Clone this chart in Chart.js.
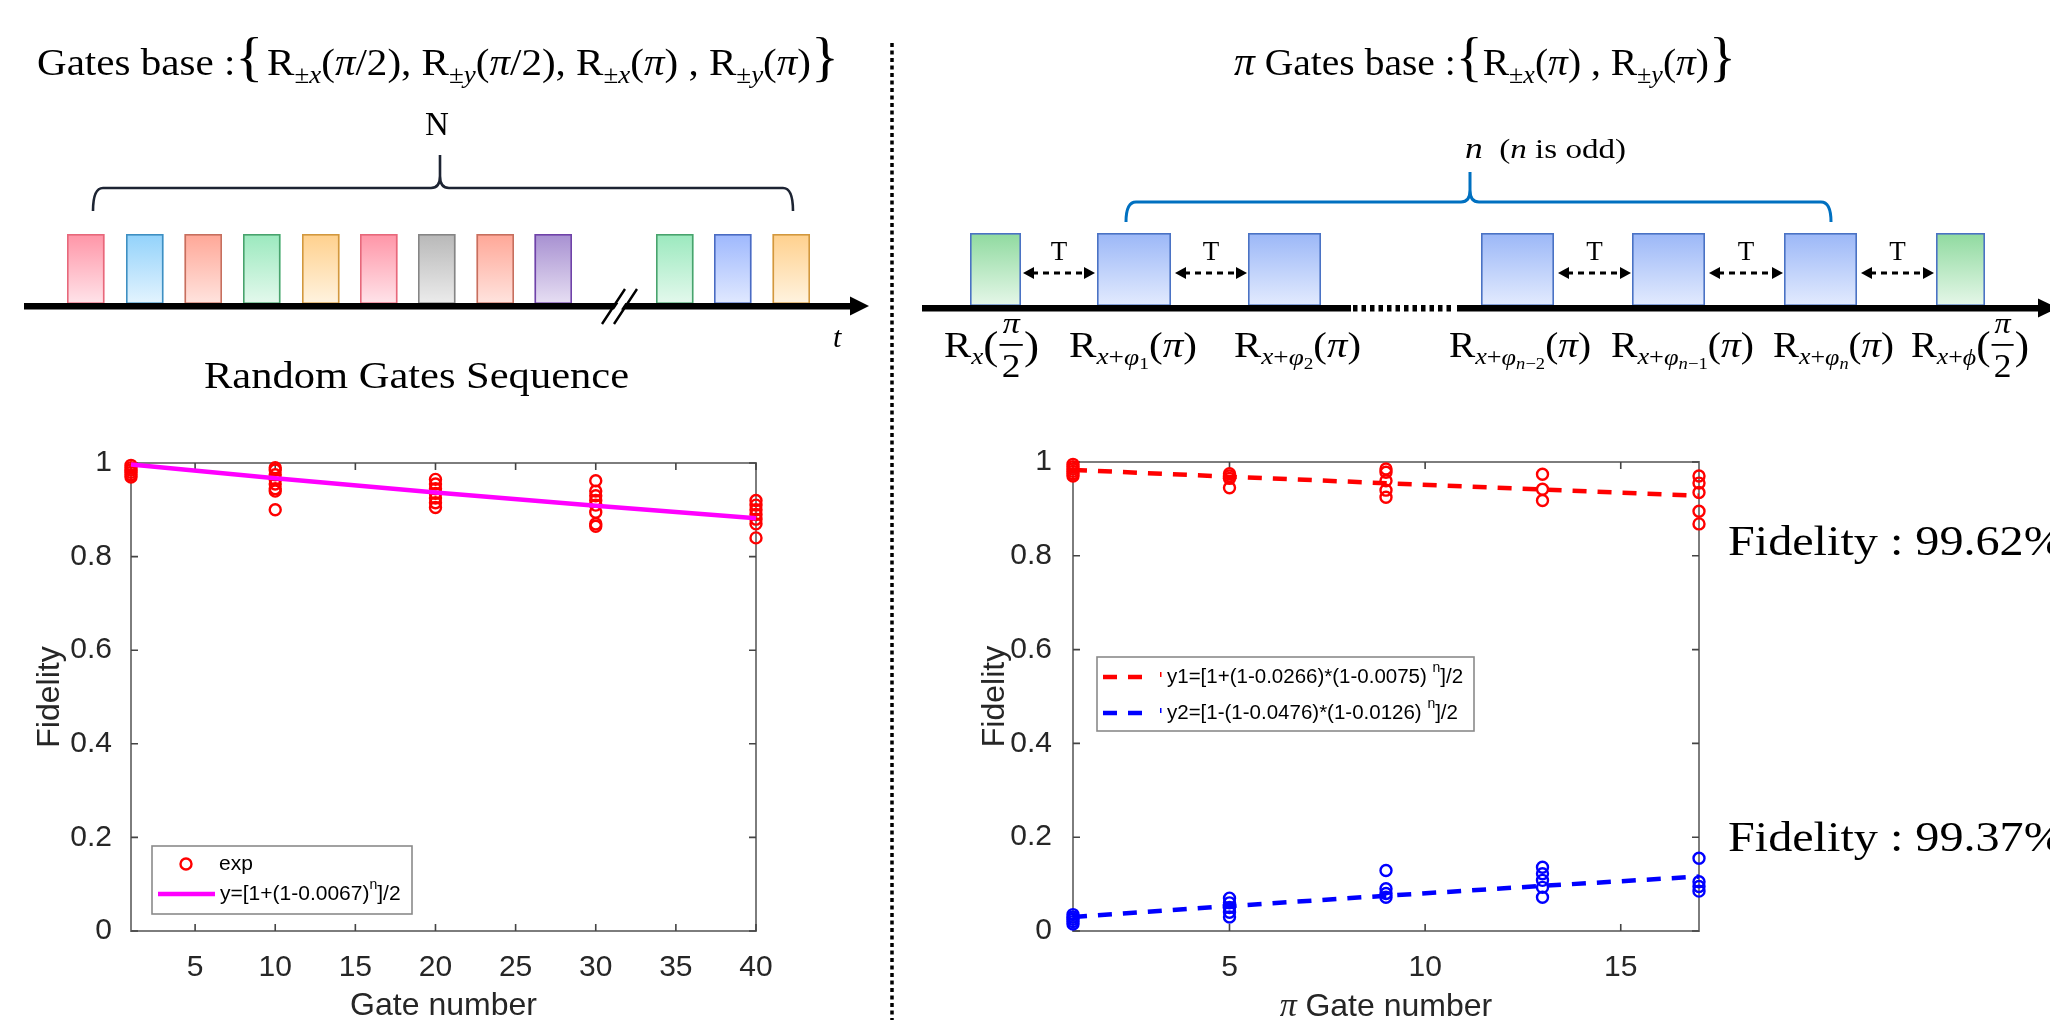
<!DOCTYPE html>
<html>
<head>
<meta charset="utf-8">
<script src="https://cdn.jsdelivr.net/npm/chart.js@4.4.1/dist/chart.umd.min.js"></script>
<style>
  html, body { margin: 0; padding: 0; background: #fff; width: 2050px; height: 1020px; overflow: hidden; }
  #diagram { position: absolute; left: 0; top: 0; }
  .box { position: absolute; }
</style>
</head>
<body>
<canvas id="diagram" width="2050" height="1020"></canvas>
<div class="box" style="left:0px; top:430px;"><canvas id="leftChart" width="880" height="620"></canvas></div>
<div class="box" style="left:940px; top:430px;"><canvas id="rightChart" width="880" height="620"></canvas></div>
<script>
// ---- data ----
var yTicks = [0, 0.2, 0.4, 0.6, 0.8, 1];

// random gates
var leftX = [1, 10, 20, 30, 40];
var leftExp = [
  [0.995, 0.99, 0.985, 0.98, 0.975, 0.97],
  [0.99, 0.985, 0.975, 0.965, 0.955, 0.945, 0.94, 0.90],
  [0.965, 0.955, 0.945, 0.935, 0.925, 0.915, 0.905],
  [0.962, 0.94, 0.93, 0.92, 0.91, 0.895, 0.87, 0.865],
  [0.92, 0.91, 0.90, 0.89, 0.88, 0.87, 0.84]
];
var leftFit = [0.9967, 0.9675, 0.9371, 0.9087, 0.8821];
var leftXTicks = [5, 10, 15, 20, 25, 30, 35, 40];
var leftLegend = [['exp'], ['y=[1+(1-0.0067)', 'n', ']/2']];

// pi gates
var rightX = [1, 5, 9, 13, 17];
var rightRed = [
  [0.995, 0.99, 0.985, 0.98, 0.975, 0.97],
  [0.975, 0.97, 0.965, 0.945],
  [0.985, 0.978, 0.96, 0.94, 0.925],
  [0.974, 0.942, 0.918],
  [0.97, 0.955, 0.935, 0.895, 0.868]
];
var rightRedFit = [0.9831, 0.9687, 0.9548, 0.9413, 0.9282];
var rightBlue = [
  [0.035, 0.03, 0.025, 0.02, 0.015],
  [0.07, 0.06, 0.05, 0.04, 0.03],
  [0.129, 0.09, 0.08, 0.072],
  [0.136, 0.122, 0.108, 0.093, 0.072],
  [0.155, 0.105, 0.095, 0.085]
];
var rightBlueFit = [0.0298, 0.0531, 0.0752, 0.0962, 0.1161];
var rightXTicks = [5, 10, 15];
var rightLegend = [['y1=[1+(1-0.0266)*(1-0.0075) ', 'n', ']/2'], ['y2=[1-(1-0.0476)*(1-0.0126) ', 'n', ']/2']];
var fidelityText = ['Fidelity : 99.62%', 'Fidelity : 99.37%'];

function toPoints(xs, vals) {
  var pts = [];
  xs.forEach(function (x, i) {
    [].concat(vals[i]).forEach(function (y) { pts.push({x: x, y: y}); });
  });
  return pts;
}

Chart.defaults.font.family = '"Liberation Sans", Arial, sans-serif';
Chart.defaults.color = '#262626';

var SANS = '"Liberation Sans", Arial, sans-serif';
var SERIF = '"Liberation Serif", "DejaVu Serif", serif';

// matlab style box with inward ticks on all four sides
var matlabBox = {
  id: 'matlabBox',
  beforeDatasetsDraw: function (chart) {
    var a = chart.chartArea, ctx = chart.ctx;
    ctx.save();
    ctx.strokeStyle = '#7d7d7d';
    ctx.lineWidth = 2;
    ctx.strokeRect(a.left, a.top, a.right - a.left, a.bottom - a.top);
    ctx.strokeStyle = '#444';
    ctx.lineWidth = 1.6;
    ctx.beginPath();
    chart.scales.x.ticks.forEach(function (t) {
      var px = chart.scales.x.getPixelForValue(t.value);
      ctx.moveTo(px, a.bottom); ctx.lineTo(px, a.bottom - 7);
      ctx.moveTo(px, a.top); ctx.lineTo(px, a.top + 7);
    });
    chart.scales.y.ticks.forEach(function (t) {
      var py = chart.scales.y.getPixelForValue(t.value);
      ctx.moveTo(a.left, py); ctx.lineTo(a.left + 7, py);
      ctx.moveTo(a.right, py); ctx.lineTo(a.right - 7, py);
    });
    ctx.stroke();
    ctx.restore();
  }
};

// legend drawn inside the axes like matlab
var boxLegend = {
  id: 'boxLegend',
  afterDraw: function (chart, args, o) {
    var ctx = chart.ctx, b = o.box;
    ctx.save();
    ctx.fillStyle = '#fff';
    ctx.fillRect(b[0], b[1], b[2] - b[0], b[3] - b[1]);
    ctx.strokeStyle = '#8a8a8a';
    ctx.lineWidth = 1.6;
    ctx.strokeRect(b[0], b[1], b[2] - b[0], b[3] - b[1]);
    o.items.forEach(function (it) {
      var ds = chart.data.datasets[it.ds];
      if (it.marker) {
        ctx.beginPath();
        ctx.arc(it.sx, it.y, ds.pointRadius, 0, Math.PI * 2);
        ctx.strokeStyle = ds.pointBorderColor;
        ctx.lineWidth = ds.pointBorderWidth;
        ctx.stroke();
      } else {
        ctx.beginPath();
        ctx.setLineDash(ds.borderDash || []);
        ctx.moveTo(it.sx, it.y);
        ctx.lineTo(it.ex, it.y);
        ctx.strokeStyle = ds.borderColor;
        ctx.lineWidth = ds.borderWidth;
        ctx.stroke();
        ctx.setLineDash([]);
        if (it.tick) {
          ctx.fillStyle = ds.borderColor;
          ctx.fillRect(it.tick, it.y - 5, 1.5, 5);
        }
      }
      var txt = it.text, x = it.tx;
      ctx.fillStyle = '#000';
      ctx.textBaseline = 'middle';
      ctx.textAlign = 'left';
      ctx.font = o.size + 'px ' + SANS;
      ctx.fillText(txt[0], x, it.y);
      x += ctx.measureText(txt[0]).width;
      if (txt.length > 1) {
        ctx.font = Math.round(o.size * 0.68) + 'px ' + SANS;
        ctx.fillText(txt[1], x, it.y - 9);
        x += ctx.measureText(txt[1]).width;
        ctx.font = o.size + 'px ' + SANS;
        ctx.fillText(txt[2], x, it.y);
      }
    });
    ctx.restore();
  }
};

// x title with an italic serif pi in front
var piTitle = {
  id: 'piTitle',
  afterDraw: function (chart, args, o) {
    var ctx = chart.ctx, a = chart.chartArea;
    ctx.save();
    ctx.fillStyle = '#262626';
    ctx.textBaseline = 'alphabetic';
    ctx.font = 'italic 34px ' + SERIF;
    var w1 = ctx.measureText('\u03c0 ').width;
    ctx.font = '32px ' + SANS;
    var w2 = ctx.measureText(o.text).width;
    var x = (a.left + a.right) / 2 - (w1 + w2) / 2;
    ctx.font = 'italic 34px ' + SERIF;
    ctx.fillText('\u03c0', x, o.y);
    ctx.font = '32px ' + SANS;
    ctx.fillText(o.text, x + w1, o.y);
    ctx.restore();
  }
};

function axes(xMin, xMax, xTicks, yWidth, yPad, yTitlePad, xTitle) {
  return {
    x: {
      type: 'linear', min: xMin, max: xMax,
      grid: {display: false}, border: {display: false},
      afterBuildTicks: function (s) { s.ticks = xTicks.map(function (v) { return {value: v}; }); },
      afterFit: function (s) { s.height = 119; },
      ticks: {font: {size: 30}, padding: 11, maxRotation: 0, color: '#262626'},
      title: xTitle ? {display: true, text: xTitle, font: {size: 32}, color: '#262626', padding: {top: 0, bottom: 25}} : {display: false}
    },
    y: {
      type: 'linear', min: 0, max: 1,
      grid: {display: false}, border: {display: false},
      afterBuildTicks: function (s) { s.ticks = yTicks.map(function (v) { return {value: v}; }); },
      afterFit: function (s) { s.width = yWidth; },
      ticks: {font: {size: 30}, padding: yPad, color: '#262626', callback: function (v) { return String(v); }},
      title: {display: true, text: 'Fidelity', font: {size: 32}, color: '#262626', padding: {top: yTitlePad, bottom: 0}}
    }
  };
}

function circles(pts, color) {
  return {type: 'scatter', data: pts, showLine: false, pointStyle: 'circle', pointRadius: 5.5,
    pointBorderWidth: 2.4, pointBorderColor: color, pointBackgroundColor: 'rgba(0,0,0,0)', clip: false, order: 2};
}
function fitLine(pts, color, dash) {
  return {type: 'scatter', data: pts, showLine: true, pointRadius: 0, borderColor: color,
    borderWidth: 4.5, borderDash: dash || [], fill: false, tension: 0, clip: false, order: 1};
}

new Chart(document.getElementById('leftChart'), {
  type: 'scatter',
  data: {
    datasets: [
      circles(toPoints(leftX, leftExp), '#ff0000'),
      fitLine(toPoints(leftX, leftFit), '#ff00ff')
    ]
  },
  options: {
    responsive: false, animation: false, events: [],
    layout: {padding: {left: 0, top: 33, right: 124, bottom: 0}},
    plugins: {
      legend: {display: false}, tooltip: {enabled: false},
      boxLegend: {
        size: 21,
        box: [152, 416, 412, 484],
        items: [
          {ds: 0, marker: true, sx: 186, y: 434, tx: 219, text: leftLegend[0]},
          {ds: 1, sx: 158, ex: 215, y: 464, tx: 220, text: leftLegend[1]}
        ]
      }
    },
    scales: axes(1, 40, leftXTicks, 131, 11, 31, 'Gate number')
  },
  plugins: [matlabBox, boxLegend]
});

new Chart(document.getElementById('rightChart'), {
  type: 'scatter',
  data: {
    datasets: [
      circles(toPoints(rightX, rightRed), '#ff0000'),
      circles(toPoints(rightX, rightBlue), '#0000ff'),
      fitLine(toPoints(rightX, rightRedFit), '#ff0000', [14, 11]),
      fitLine(toPoints(rightX, rightBlueFit), '#0000ff', [14, 11])
    ]
  },
  options: {
    responsive: false, animation: false, events: [],
    layout: {padding: {left: 0, top: 32, right: 121, bottom: 0}},
    plugins: {
      legend: {display: false}, tooltip: {enabled: false},
      piTitle: {text: 'Gate number', y: 586},
      boxLegend: {
        size: 20.5,
        box: [157, 227, 534, 301],
        items: [
          {ds: 2, sx: 163, ex: 205, tick: 220, y: 247, tx: 227, text: rightLegend[0]},
          {ds: 3, sx: 163, ex: 205, tick: 220, y: 283, tx: 227, text: rightLegend[1]}
        ]
      }
    },
    scales: axes(1, 17, rightXTicks, 133, 13, 36, null)
  },
  plugins: [matlabBox, boxLegend, piTitle]
});

// ---- schematic drawings above the plots ----
var dg = document.getElementById('diagram').getContext('2d');

function sfont(s, it) { return (it ? 'italic ' : '') + s + 'px ' + SERIF; }
function T(t, s, o) { var p = {t: t, s: s}; for (var k in o) p[k] = o[k]; return p; }

function partWidth(p) {
  if (p.frac) {
    dg.font = sfont(p.s, true);
    var a = dg.measureText(p.frac[0]).width;
    dg.font = sfont(p.s2, false);
    var b = dg.measureText(p.frac[1]).width;
    return Math.max(a, b) + 6;
  }
  dg.font = sfont(p.s, p.it);
  return dg.measureText(p.t).width;
}

function drawRun(parts, x0, x1, base, sxFix) {
  var ws = parts.map(partWidth);
  var total = ws.reduce(function (a, b) { return a + b; }, 0);
  var sx = sxFix || (x1 - x0) / total;
  dg.save();
  dg.translate(x0, base);
  dg.scale(sx, 1);
  dg.fillStyle = '#000';
  dg.textBaseline = 'alphabetic';
  var x = 0;
  parts.forEach(function (p, i) {
    if (p.frac) {
      var w = ws[i];
      dg.textAlign = 'center';
      dg.font = sfont(p.s, true);
      dg.fillText(p.frac[0], x + w / 2, -24);
      dg.fillRect(x + 1, -13, w - 2, 1.8);
      dg.font = sfont(p.s2, false);
      dg.fillText(p.frac[1], x + w / 2, 20);
    } else {
      dg.textAlign = 'left';
      dg.font = sfont(p.s, p.it);
      dg.fillText(p.t, x, p.dy || 0);
    }
    x += ws[i];
  });
  dg.restore();
}

function Rpm(axis) {
  return [T('R', 38), T('\u00b1', 25, {dy: 8}), T(axis, 25, {it: true, dy: 8})];
}

// titles
drawRun([].concat(
  [T('Gates base :', 38), T('{', 54), T(' ', 14)],
  Rpm('x'), [T('(', 38), T('\u03c0', 38, {it: true}), T('/2), ', 38)],
  Rpm('y'), [T('(', 38), T('\u03c0', 38, {it: true}), T('/2), ', 38)],
  Rpm('x'), [T('(', 38), T('\u03c0', 38, {it: true}), T(') , ', 38)],
  Rpm('y'), [T('(', 38), T('\u03c0', 38, {it: true}), T(')', 38), T('}', 54)]
), 37, 839, 75);

drawRun([].concat(
  [T('\u03c0', 40, {it: true}), T(' Gates base :', 38), T('{', 54)],
  Rpm('x'), [T('(', 38), T('\u03c0', 38, {it: true}), T(') , ', 38)],
  Rpm('y'), [T('(', 38), T('\u03c0', 38, {it: true}), T(')', 38), T('}', 54)]
), 1234, 1736, 75);

dg.fillStyle = '#000';
dg.textAlign = 'center';
dg.font = sfont(33, false);
dg.fillText('N', 437, 135);

drawRun([T('n', 30, {it: true}), T('  (', 28), T('n', 28, {it: true}), T(' is odd)', 28)], 1465, 1626, 158);

drawRun([T('Random Gates Sequence', 37)], 204, 629, 388);

dg.font = sfont(30, true);
dg.textAlign = 'left';
dg.fillText('t', 833, 347);

// braces
function brace(x0, x1, xc, yTop, yEnd, yPeak, color, lw) {
  dg.save();
  dg.strokeStyle = color;
  dg.lineWidth = lw;
  dg.lineJoin = 'round';
  dg.beginPath();
  dg.moveTo(x0, yEnd);
  dg.quadraticCurveTo(x0, yTop, x0 + 10, yTop);
  dg.lineTo(xc - 9, yTop);
  dg.quadraticCurveTo(xc, yTop, xc, yTop - 12);
  dg.lineTo(xc, yPeak);
  dg.moveTo(x1, yEnd);
  dg.quadraticCurveTo(x1, yTop, x1 - 10, yTop);
  dg.lineTo(xc + 9, yTop);
  dg.quadraticCurveTo(xc, yTop, xc, yTop - 12);
  dg.stroke();
  dg.restore();
}
brace(93, 793, 440, 188, 211, 155, '#1d2433', 2.6);
brace(1126, 1831, 1470, 202, 222, 172, '#0070c0', 3);

// gate boxes
function gate(x0, x1, y0, y1, c) {
  var g = dg.createLinearGradient(0, y0, 0, y1);
  g.addColorStop(0, c[0]);
  g.addColorStop(1, c[1]);
  dg.fillStyle = g;
  dg.fillRect(x0, y0, x1 - x0, y1 - y0);
  dg.strokeStyle = c[2];
  dg.lineWidth = 1.6;
  dg.strokeRect(x0 + 0.8, y0 + 0.8, x1 - x0 - 1.6, y1 - y0 - 1.6);
}
var PINK = ['#ff95a7', '#ffe4ea', '#e7687b'], SKY = ['#92d2fb', '#e4f4fe', '#3e8fc2'],
    SALMON = ['#ffa797', '#ffe4df', '#c66f5e'], MINT = ['#9be9be', '#e4f9ed', '#48a36d'],
    ORANGE = ['#ffd08d', '#fff3e0', '#d2983e'], GRAY = ['#b8b8b8', '#ececec', '#858585'],
    PURPLE = ['#a790d1', '#e7dff3', '#6f42a8'], BLUE = ['#9eb8fd', '#e1e9ff', '#4a6bc2'];
var leftGates = [[67, PINK], [126, SKY], [184.5, SALMON], [243, MINT], [302, ORANGE], [360, PINK],
  [418, GRAY], [476.5, SALMON], [534.5, PURPLE], [656, MINT], [714, BLUE], [772.5, ORANGE]];
leftGates.forEach(function (g) { gate(g[0], g[0] + 37.5, 234, 304, g[1]); });

var PBLUE = ['#9bb7f7', '#e3ebfe', '#4a72c4'], PGREEN = ['#8fda9f', '#e6f7e9', '#4a72c4'];
var rightGates = [[970, 1021, PGREEN], [1097, 1171, PBLUE], [1248, 1321, PBLUE], [1481, 1554, PBLUE],
  [1632, 1705, PBLUE], [1784, 1857, PBLUE], [1936, 1985, PGREEN]];
rightGates.forEach(function (g) { gate(g[0], g[1], 233, 306, g[2]); });

// time axes
dg.fillStyle = '#000';
dg.fillRect(24, 303, 830, 6.5);
dg.beginPath(); dg.moveTo(869, 306); dg.lineTo(850, 296.5); dg.lineTo(850, 315.5); dg.closePath(); dg.fill();
// axis break
dg.fillStyle = '#fff';
dg.beginPath(); dg.moveTo(605, 323); dg.lineTo(627, 290); dg.lineTo(634, 290); dg.lineTo(612, 323); dg.closePath(); dg.fill();
dg.strokeStyle = '#000'; dg.lineWidth = 2.4;
dg.beginPath();
dg.moveTo(602, 324); dg.lineTo(625, 289);
dg.moveTo(614, 324); dg.lineTo(637, 289);
dg.stroke();

dg.fillStyle = '#000';
dg.fillRect(922, 305, 429, 6.5);
dg.fillRect(1457, 305, 600, 6.5);
for (var xd = 1353; xd < 1455; xd += 8.5) dg.fillRect(xd, 305, 4.5, 6.5);
dg.beginPath(); dg.moveTo(2058, 308); dg.lineTo(2038, 298.5); dg.lineTo(2038, 317.5); dg.closePath(); dg.fill();

// spacing arrows with T
function tArrow(x0, x1) {
  var y = 273;
  dg.save();
  dg.strokeStyle = '#000';
  dg.lineWidth = 3;
  dg.setLineDash([6, 5]);
  dg.beginPath(); dg.moveTo(x0 + 9, y); dg.lineTo(x1 - 9, y); dg.stroke();
  dg.setLineDash([]);
  dg.fillStyle = '#000';
  dg.beginPath(); dg.moveTo(x0, y); dg.lineTo(x0 + 11, y - 6); dg.lineTo(x0 + 11, y + 6); dg.closePath(); dg.fill();
  dg.beginPath(); dg.moveTo(x1, y); dg.lineTo(x1 - 11, y - 6); dg.lineTo(x1 - 11, y + 6); dg.closePath(); dg.fill();
  dg.font = sfont(27, false);
  dg.textAlign = 'center';
  dg.fillText('T', (x0 + x1) / 2, 260);
  dg.restore();
}
[[1023, 1095], [1175, 1247], [1558, 1631], [1709, 1783], [1861, 1934]].forEach(function (a) { tArrow(a[0], a[1]); });

// pulse labels
var S = 36, s2 = 24, s3 = 17;
function Rsub(extra) {
  return [T('R', S), T('x', s2, {it: true, dy: 7})].concat(extra);
}
var paren = function (inner) { return [T('(', S)].concat(inner, [T(')', S)]); };
var piArg = paren([T('\u03c0', S, {it: true})]);
var halfArg = [T('(', 40, {dy: 2}), {frac: ['\u03c0', '2'], s: 30, s2: 33}, T(')', 40, {dy: 2})];
function phi(sub) {
  return [T('+', s2, {dy: 7}), T('\u03c6', s2, {it: true, dy: 8})].concat(sub);
}
var base = 357;
drawRun(Rsub(halfArg), 944, 1039, base);
drawRun(Rsub(phi([T('1', s3, {dy: 12})]).concat(piArg)), 1069, 1197, base);
drawRun(Rsub(phi([T('2', s3, {dy: 12})]).concat(piArg)), 1234, 1361, base);
drawRun(Rsub(phi([T('n', s3, {it: true, dy: 12}), T('\u22122', s3, {dy: 12})]).concat(piArg)), 1449, 1591, base);
drawRun(Rsub(phi([T('n', s3, {it: true, dy: 12}), T('\u22121', s3, {dy: 12})]).concat(piArg)), 1611, 1754, base);
drawRun(Rsub(phi([T('n', s3, {it: true, dy: 12})]).concat(piArg)), 1773, 1894, base);
drawRun(Rsub([T('+', s2, {dy: 7}), T('\u03d5', s2, {it: true, dy: 8})]).concat(halfArg), 1911, 2029, base);

// fidelity notes on the right
drawRun([T(fidelityText[0], 43)], 1728, null, 555, 1.12);
drawRun([T(fidelityText[1], 43)], 1728, null, 851, 1.12);

// dotted divider
dg.save();
dg.strokeStyle = '#000';
dg.lineWidth = 3.5;
dg.setLineDash([4, 3.5]);
dg.beginPath(); dg.moveTo(892, 43); dg.lineTo(892, 1020); dg.stroke();
dg.restore();
</script>
</body>
</html>
